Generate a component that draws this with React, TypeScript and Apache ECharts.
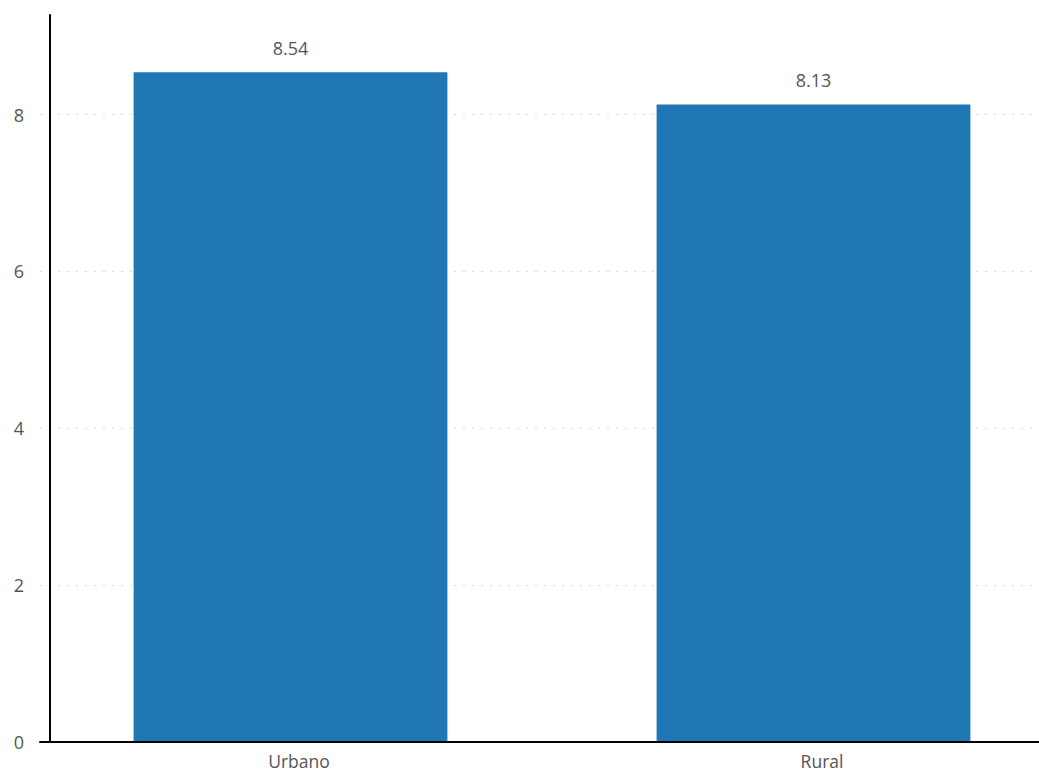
import React, { useEffect, useRef } from "react";
import * as echarts from "echarts";

const categories = ["Urbano", "Rural"];
const values = [8.54, 8.13];
const yTicks = [0, 2, 4, 6, 8];
const yMax = 9.27;

export default function App() {
  const ref = useRef<HTMLDivElement>(null);
  useEffect(() => {
    if (!ref.current) return;
    const chart = echarts.init(ref.current, undefined, { renderer: "svg" });
    const font = "'Open Sans', 'Noto Sans', sans-serif";
    chart.setOption({
      animation: false,
      backgroundColor: "#ffffff",
      grid: [
        { left: 40, right: 0, top: 15, bottom: 31, outerBoundsMode: "none" },
        { left: 29, width: 1046, top: 15, bottom: 31, outerBoundsMode: "none" },
      ],
      xAxis: [
        {
          type: "category",
          gridIndex: 0,
          data: [""],
          z: 10,
          axisLine: { show: true, lineStyle: { color: "#000", width: 2 } },
          axisTick: { show: false },
          axisLabel: { show: false },
          splitLine: { show: false },
        },
        {
          type: "category",
          gridIndex: 1,
          data: categories,
          axisLine: { show: false },
          axisTick: { show: false },
          axisLabel: {
            color: "#555",
            fontSize: 17.5,
            lineHeight: 16,
            fontFamily: font,
            margin: 11,
            padding: [0, 0, 0, 17],
          },
          splitLine: { show: false },
        },
      ],
      yAxis: [
        {
          type: "value",
          gridIndex: 0,
          min: 0,
          max: yMax,
          interval: 2,
          offset: -10,
          axisLine: { show: true, lineStyle: { color: "#000", width: 2 } },
          axisTick: { show: false },
          axisLabel: {
            color: "#555",
            fontSize: 18,
            fontFamily: font,
            margin: 26,
            showMaxLabel: false,
            formatter: (v: number) => (yTicks.includes(v) ? String(v) : ""),
          },
          splitLine: {
            show: true,
            showMaxLine: false,
            lineStyle: { color: "#d9d9d9", type: [2, 7], width: 1 },
          },
        },
        {
          type: "value",
          gridIndex: 1,
          min: 0,
          max: yMax,
          show: false,
          splitLine: { show: false },
        },
      ],
      series: [
        {
          type: "bar",
          xAxisIndex: 1,
          yAxisIndex: 1,
          data: values,
          barWidth: "60%",
          z: 5,
          itemStyle: { color: "#1f77b4" },
          label: {
            show: true,
            position: "top",
            distance: 15,
            color: "#555",
            fontSize: 18,
            fontFamily: font,
            formatter: (p: any) => p.value.toFixed(2),
          },
        },
      ],
    });
    return () => chart.dispose();
  }, []);
  return (
    <div
      ref={ref}
      style={{ position: "fixed", left: 0, top: 0, width: 1039, height: 773 }}
    />
  );
}
